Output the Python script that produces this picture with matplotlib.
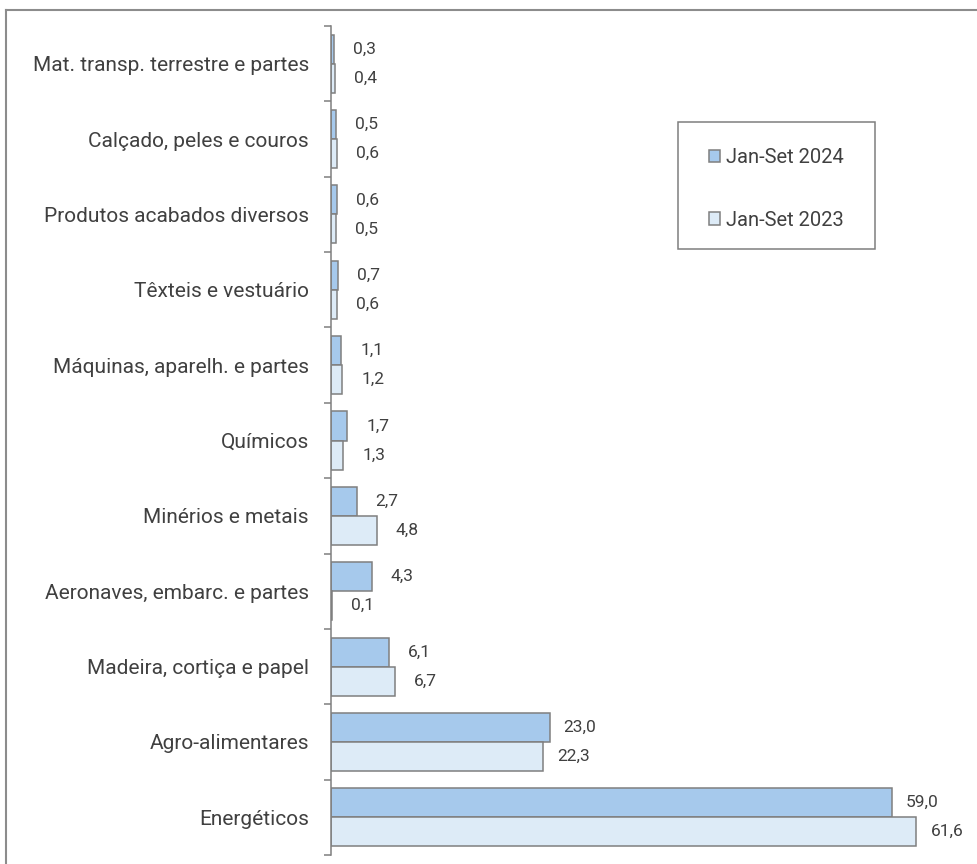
import matplotlib.pyplot as plt
import numpy as np
from matplotlib.lines import Line2D
from matplotlib.patches import Rectangle

# Categorias (de cima para baixo)
categorias = ['Mat. transp. terrestre e partes', 'Calçado, peles e couros',
              'Produtos acabados diversos', 'Têxteis e vestuário',
              'Máquinas, aparelh. e partes', 'Químicos', 'Minérios e metais',
              'Aeronaves, embarc. e partes', 'Madeira, cortiça e papel',
              'Agro-alimentares', 'Energéticos']
valores_2024 = [0.3, 0.5, 0.6, 0.7, 1.1, 1.7, 2.7, 4.3, 6.1, 23.0, 59.0]
valores_2023 = [0.4, 0.6, 0.5, 0.6, 1.2, 1.3, 4.8, 0.1, 6.7, 22.3, 61.6]
legenda = ['Jan-Set 2024', 'Jan-Set 2023']

plt.rcParams['font.family'] = ['Roboto', 'DejaVu Sans']

cor_2024 = '#A6C9EC'
cor_2023 = '#DDEBF7'
cor_borda = '#7F7F7F'
cor_texto = '#404040'

fig = plt.figure(figsize=(9.77, 8.64), dpi=100)
ax = fig.add_axes([331 / 977, 1 - 855 / 864, 627 / 977, 829 / 864])

y = np.arange(len(categorias))
h = 0.385
b1 = ax.barh(y - h / 2, valores_2024, height=h, color=cor_2024, edgecolor=cor_borda,
             linewidth=1.1, label=legenda[0])
b2 = ax.barh(y + h / 2, valores_2023, height=h, color=cor_2023, edgecolor=cor_borda,
             linewidth=1.1, label=legenda[1])

# Rótulos de valor
for barras, vals in ((b1, valores_2024), (b2, valores_2023)):
    for r, v in zip(barras, vals):
        ax.annotate(f'{v:.1f}'.replace('.', ','),
                    xy=(r.get_width(), r.get_y() + r.get_height() / 2),
                    xytext=(22, 0), textcoords='offset points',
                    ha='center', va='center', fontsize=12.5, color=cor_texto)

ax.set_xlim(0, 66)
ax.set_ylim(len(categorias) - 0.5, -0.5)
ax.set_yticks(y)
ax.set_yticklabels(categorias, fontsize=15, color=cor_texto)
ax.tick_params(axis='y', which='major', length=0, pad=16)
ax.set_yticks(np.arange(len(categorias) + 1) - 0.5, minor=True)
ax.tick_params(axis='y', which='minor', length=5, width=1.1, color=cor_borda, direction='out')
ax.set_xticks([])
for s in ('top', 'right', 'bottom'):
    ax.spines[s].set_visible(False)
ax.spines['left'].set_color(cor_borda)
ax.spines['left'].set_linewidth(1.1)

# Legenda com moldura própria
x0, y0, x1, y1 = 678 / 977, 1 - 249 / 864, 875 / 977, 1 - 122 / 864
fig.add_artist(Rectangle((x0, y0), x1 - x0, y1 - y0, transform=fig.transFigure,
                         fill=False, edgecolor=cor_borda, linewidth=1.1))
leg = fig.legend(handles=[b1, b2], loc='center',
                 bbox_to_anchor=((x0 + x1) / 2, 1 - 189 / 864), fontsize=14.5,
                 frameon=False, handlelength=0.55, handleheight=0.55, handletextpad=0.3,
                 labelspacing=2.15, borderpad=0, borderaxespad=0)
for t in leg.get_texts():
    t.set_color(cor_texto)

# Moldura exterior (apenas topo e esquerda visíveis)
fig.add_artist(Line2D([6 / 977, 6 / 977], [0, 1 - 10 / 864], transform=fig.transFigure,
                      color='#8C8C8C', linewidth=1.5))
fig.add_artist(Line2D([6 / 977, 1], [1 - 10 / 864, 1 - 10 / 864], transform=fig.transFigure,
                      color='#8C8C8C', linewidth=1.5))

fig.savefig('out.png', dpi=100)
